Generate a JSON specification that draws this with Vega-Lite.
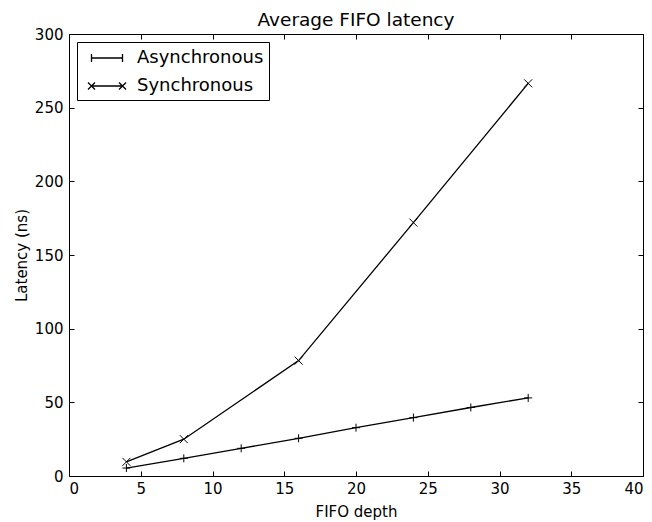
{
  "$schema": "https://vega.github.io/schema/vega-lite/v6.json",
  "width": 574,
  "height": 442,
  "autosize": {"type": "none"},
  "padding": {"left": 69, "top": 34, "right": 9, "bottom": 46},
  "background": "white",
  "title": {"text": "Average FIFO latency", "fontSize": 18.5, "fontWeight": "normal", "font": "DejaVu Sans", "color": "black", "baseline": "alphabetic", "offset": 7, "dy": 24},
  "config": {
    "view": {"stroke": "black", "strokeWidth": 1},
    "axis": {"grid": false, "domain": false, "tickColor": "black", "tickSize": -5, "labelFont": "DejaVu Sans", "labelFontSize": 15, "labelColor": "black", "titleFont": "DejaVu Sans", "titleFontSize": 15, "titleFontWeight": "normal", "titleColor": "black"}
  },
  "data": {"values": [
    {"series": "Asynchronous", "depth": 4, "latency": 5.4},
    {"series": "Asynchronous", "depth": 8, "latency": 12},
    {"series": "Asynchronous", "depth": 12, "latency": 18.8},
    {"series": "Asynchronous", "depth": 16, "latency": 25.6},
    {"series": "Asynchronous", "depth": 20, "latency": 32.8},
    {"series": "Asynchronous", "depth": 24, "latency": 39.6},
    {"series": "Asynchronous", "depth": 28, "latency": 46.5},
    {"series": "Asynchronous", "depth": 32, "latency": 53},
    {"series": "Synchronous", "depth": 4, "latency": 9.6},
    {"series": "Synchronous", "depth": 8, "latency": 25},
    {"series": "Synchronous", "depth": 16, "latency": 78.3},
    {"series": "Synchronous", "depth": 24, "latency": 172},
    {"series": "Synchronous", "depth": 32, "latency": 266.5}
  ]},
  "resolve": {"axis": {"x": "independent", "y": "independent"}},
  "layer": [
    {
      "mark": {"type": "line", "color": "black", "strokeWidth": 1.3},
      "encoding": {
        "x": {"field": "depth", "type": "quantitative", "scale": {"domain": [0, 40], "nice": false, "zero": false}, "axis": {"orient": "top", "labels": false, "title": null, "values": [0,5,10,15,20,25,30,35,40]}},
        "y": {"field": "latency", "type": "quantitative", "scale": {"domain": [0, 300], "nice": false}, "axis": {"orient": "right", "labels": false, "title": null, "values": [0,50,100,150,200,250,300]}},
        "detail": {"field": "series"}
      }
    },
    {
      "transform": [{"filter": "datum.series === 'Asynchronous'"}],
      "mark": {"type": "point", "filled": false, "stroke": "black", "strokeWidth": 1, "size": 64, "opacity": 1, "shape": "M0,-1L0,1M-1,0L1,0"},
      "encoding": {
        "x": {"field": "depth", "type": "quantitative", "axis": {"orient": "bottom", "title": "FIFO depth", "values": [0,5,10,15,20,25,30,35,40], "labelPadding": 10, "titlePadding": 8}},
        "y": {"field": "latency", "type": "quantitative", "axis": {"orient": "left", "title": "Latency (ns)", "values": [0,50,100,150,200,250,300], "labelPadding": 11, "titlePadding": 5}}
      }
    },
    {
      "transform": [{"filter": "datum.series === 'Synchronous'"}],
      "mark": {"type": "point", "filled": false, "stroke": "black", "strokeWidth": 1, "size": 64, "opacity": 1, "shape": "M-1,-1L1,1M-1,1L1,-1"},
      "encoding": {
        "x": {"field": "depth", "type": "quantitative", "axis": null},
        "y": {"field": "latency", "type": "quantitative", "axis": null}
      }
    },
    {
      "mark": {"type": "point", "filled": false, "stroke": "black", "opacity": 0},
      "encoding": {
        "x": {"field": "depth", "type": "quantitative", "axis": null},
        "y": {"field": "latency", "type": "quantitative", "axis": null},
        "shape": {
          "field": "series", "type": "nominal",
          "scale": {"domain": ["Asynchronous", "Synchronous"], "range": ["M-1.55,0L1.55,0M-1.55,-0.4L-1.55,0.4M1.55,-0.4L1.55,0.4", "M-1.55,0L1.55,0M-1.9,-0.35L-1.2,0.35M-1.9,0.35L-1.2,-0.35M1.2,-0.35L1.9,0.35M1.2,0.35L1.9,-0.35"]},
          "legend": {
            "title": null, "orient": "none", "legendX": 8, "legendY": 8,
            "strokeColor": "black", "fillColor": "white", "padding": 5,
            "labelFont": "DejaVu Sans", "labelFontSize": 18, "labelColor": "black", "labelOffset": 19, "symbolOffset": 14,
            "symbolSize": 400, "symbolStrokeColor": "black", "symbolStrokeWidth": 1.3, "symbolFillColor": "transparent", "symbolOpacity": 1, "rowPadding": 8
          }
        }
      }
    }
  ]
}
